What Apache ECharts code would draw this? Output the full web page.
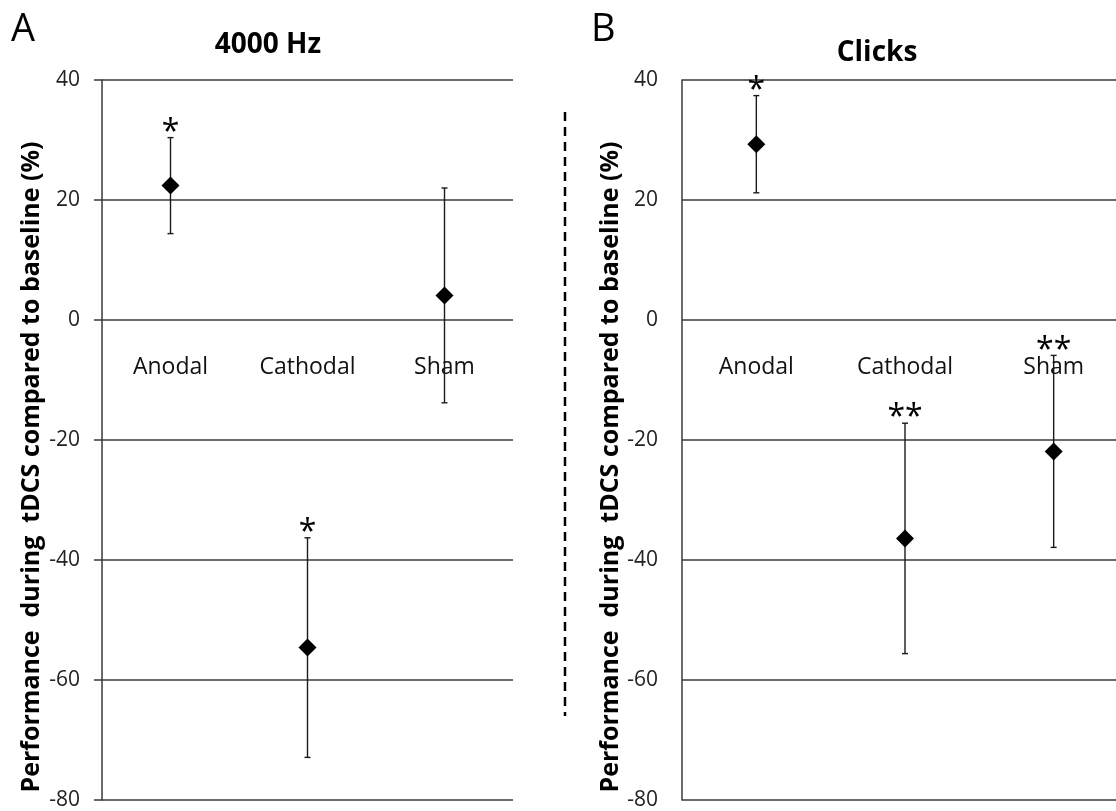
<!DOCTYPE html>
<html>
<head>
<meta charset="utf-8">
<script src="https://cdn.jsdelivr.net/npm/echarts@6/dist/echarts.min.js"></script>
<style>
  html, body { margin: 0; padding: 0; background: #fff; }
  #chart { width: 1116px; height: 811px; }
</style>
</head>
<body>
<div id="chart"></div>
<script>
var conditions = ['Anodal', 'Cathodal', 'Sham'];
var yTicks = [-80, -60, -40, -20, 0, 20, 40];

// A: 4000 Hz
var toneMean = [22.4, -54.6, 4.1];
var toneErr = [8.0, 18.3, 17.9];
var toneSig = ['*', '*', ''];

// B: Clicks
var clickMean = [29.3, -36.4, -21.9];
var clickErr = [8.1, 19.2, 16.0];
var clickSig = ['*', '**', '**'];

var yName = 'Performance  during  tDCS compared to baseline (%)';
var font = '"Open Sans", Lato, sans-serif';
var lineCol = '#3a3a3a';

function errData(mean, err) {
  return mean.map(function (m, i) { return [i, m - err[i], m + err[i]]; });
}

function errRenderer(sig) {
  return function (params, api) {
    var top = api.coord([api.value(0), api.value(2)]);
    var bot = api.coord([api.value(0), api.value(1)]);
    var st = { stroke: '#1a1a1a', lineWidth: 1.4 };
    var kids = [
      { type: 'line', shape: { x1: top[0], y1: top[1], x2: bot[0], y2: bot[1] }, style: st },
      { type: 'line', shape: { x1: top[0] - 3, y1: top[1], x2: top[0] + 3, y2: top[1] }, style: st },
      { type: 'line', shape: { x1: bot[0] - 3, y1: bot[1], x2: bot[0] + 3, y2: bot[1] }, style: st }
    ];
    var s = sig[params.dataIndex];
    if (s) {
      kids.push({
        type: 'text', x: top[0], y: top[1] - 5,
        style: { text: s, fill: '#000', font: '32px ' + font, align: 'center', verticalAlign: 'middle' }
      });
    }
    return { type: 'group', children: kids };
  };
}

function yAxisFor(idx, ticks) {
  return {
    type: 'value', gridIndex: idx,
    min: yTicks[0], max: yTicks[yTicks.length - 1], interval: 20,
    name: yName, nameLocation: 'middle', nameGap: 58,
    nameTextStyle: { fontFamily: font, fontWeight: 'bold', fontSize: 25, color: '#000', padding: [0, 54, 0, 0] },
    axisLine: { show: true, lineStyle: { color: lineCol, width: 1.5 } },
    axisTick: { show: ticks, length: 8, lineStyle: { color: lineCol, width: 1.5 } },
    axisLabel: { fontFamily: font, fontSize: 21, color: '#222', margin: ticks ? 22 : 24 },
    splitLine: { show: true, lineStyle: { color: lineCol, width: 1.5 } }
  };
}

function xAxisFor(idx) {
  return {
    type: 'category', gridIndex: idx, data: conditions,
    position: 'bottom', offset: -480,   // sits on the 0 line
    axisLine: { show: false },
    axisTick: { show: false },
    axisLabel: { fontFamily: font, fontSize: 23, color: '#111', margin: 36 },
    splitLine: { show: false }
  };
}

var chart = echarts.init(document.getElementById('chart'));
chart.setOption({
  backgroundColor: '#fff',
  animation: false,
  title: [
    { text: 'A', left: 6, top: 6, textStyle: { fontFamily: font, fontSize: 38, fontWeight: 'normal', color: '#000' } },
    { text: '4000 Hz', left: 263, top: 26, textAlign: 'center', textStyle: { fontFamily: font, fontSize: 28, fontWeight: 'bold', color: '#000' } },
    { text: 'B', left: 586, top: 6, textStyle: { fontFamily: font, fontSize: 38, fontWeight: 'normal', color: '#000' } },
    { text: 'Clicks', left: 872, top: 34, textAlign: 'center', textStyle: { fontFamily: font, fontSize: 28, fontWeight: 'bold', color: '#000' } }
  ],
  grid: [
    { left: 102, top: 80, width: 411, height: 720, outerBoundsMode: 'none', containLabel: false },
    { left: 682, top: 80, width: 446, height: 720, outerBoundsMode: 'none', containLabel: false }
  ],
  xAxis: [xAxisFor(0), xAxisFor(1)],
  yAxis: [yAxisFor(0, true), yAxisFor(1, false)],
  graphic: [
    { type: 'line', shape: { x1: 565, y1: 112, x2: 565, y2: 716 },
      style: { stroke: '#000', lineWidth: 2.5, lineDash: [9, 6] } }
  ],
  series: [
    { type: 'custom', xAxisIndex: 0, yAxisIndex: 0, data: errData(toneMean, toneErr), renderItem: errRenderer(toneSig), z: 3 },
    { type: 'scatter', xAxisIndex: 0, yAxisIndex: 0, data: toneMean, symbol: 'diamond', symbolSize: 18,
      itemStyle: { color: '#000', opacity: 1 }, z: 4 },
    { type: 'custom', xAxisIndex: 1, yAxisIndex: 1, data: errData(clickMean, clickErr), renderItem: errRenderer(clickSig), z: 3 },
    { type: 'scatter', xAxisIndex: 1, yAxisIndex: 1, data: clickMean, symbol: 'diamond', symbolSize: 18,
      itemStyle: { color: '#000', opacity: 1 }, z: 4 }
  ]
});
</script>
</body>
</html>
